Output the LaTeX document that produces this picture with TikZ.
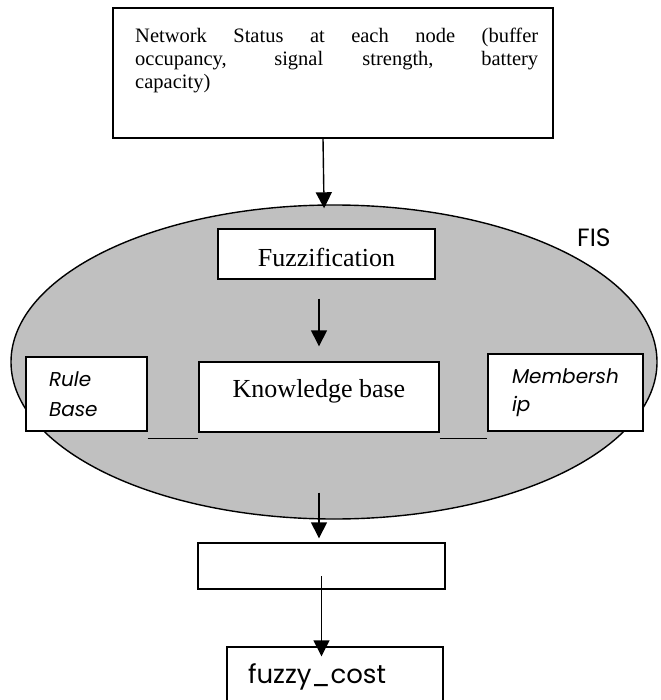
\documentclass[tikz,border=0pt]{standalone}
\usepackage{fontspec}
\setmainfont{Liberation Serif}
\newfontfamily\gothic{Poppins}
\usetikzlibrary{arrows.meta,shapes.geometric}
\definecolor{fisgray}{HTML}{C0C0C0}
\begin{document}
\begin{tikzpicture}[x=1pt,y=-1pt,
  box/.style={draw=black,line width=1.4pt,fill=white,rectangle,inner sep=0pt},
  arr/.style={draw=black,line width=1.4pt,-{Triangle[width=16pt,length=16pt]}},
  plainline/.style={draw=black,line width=1.4pt},
  serifbig/.style={font=\fontsize{26}{30}\selectfont},
  gothicit/.style={font=\gothic\itshape\fontsize{20}{#1}\selectfont},
]
\useasboundingbox (0,0) rectangle (660,700);

% top box
\node[box, minimum width=440pt, minimum height=130pt] (net) at (333,73) {};
\node[anchor=north west, inner sep=0pt, text width=403pt, align=justify,
      font=\fontsize{20.5}{23}\selectfont] (nettext) at (135,28)
  {Network Status at each node (buffer\linebreak occupancy, signal strength, battery\linebreak capacity)};

% FIS ellipse
\node[ellipse, draw=black, line width=1.4pt, fill=fisgray, inner sep=0pt,
      minimum width=646pt, minimum height=314pt] (fis) at (334,362) {};
\node[anchor=base west, inner sep=0pt, font=\gothic\fontsize{25}{30}\selectfont] (fislabel) at (577,247) {FIS};

% inner boxes
\node[box, serifbig, minimum width=217pt, text height=37pt, text depth=13pt] (fuzz) at (326.5,254) {Fuzzification};
\node[box, serifbig, minimum width=240pt, text height=35pt, text depth=35pt] (kb) at (319,397) {Knowledge base};
\node[box, gothicit=30, minimum width=121pt, minimum height=74pt, text width=75pt, inner xsep=23pt, align=left] (rule) at (86.5,394) {Rule\\Base};
\node[box, gothicit=28, minimum width=155pt, minimum height=77pt, text width=107pt, inner xsep=24pt, align=left] (memb) at (565.5,392.5) {Membersh\\ip};

\draw[plainline] ([yshift=-7pt]rule.south east) -- ([yshift=-7pt]rule.south east -| kb.west);
\draw[plainline] ([yshift=-6pt]kb.south east) -- ([yshift=-6pt]kb.south east -| memb.west);

% lower boxes
\node[box, minimum width=247pt, minimum height=46pt] (out) at (321.5,566) {};
\node[box, font=\gothic\fontsize{26}{30}\selectfont, text width=174pt, inner xsep=21pt, align=left,
      text height=36pt, text depth=27pt] (cost) at (335,678.5) {fuzzy\_cost};

% arrows
\draw[arr, shorten >=-4pt] ([xshift=-10pt]net.south) -- ([xshift=-10pt]fis.north);
\draw[arr, shorten <=19pt, shorten >=15pt] (fuzz.south -| kb.north) -- (kb.north);
\draw[arr, shorten <=60pt, shorten >=4pt] (kb.south) -- (kb.south |- out.north);
\draw[arr] ([yshift=-10pt]out.center) -- ([yshift=-10pt]out.center |- cost.north);
\end{tikzpicture}
\end{document}
